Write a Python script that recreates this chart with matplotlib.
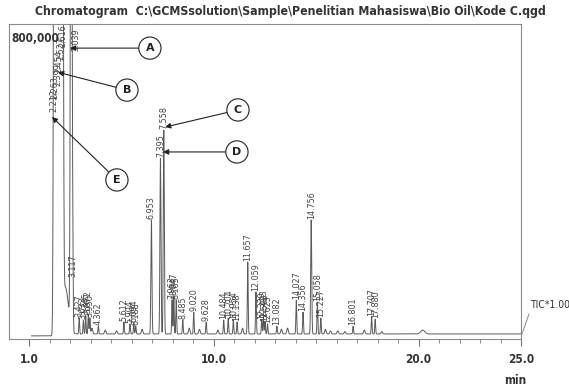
import numpy as np
import matplotlib.pyplot as plt

# off-scale peaks at the start of the run (min, counts)
big_rt = [2.212, 2.263, 2.399, 2.454, 2.527, 2.616, 3.039]
big_h = [1.9e6, 2.4e6, 3.1e6, 2.8e6, 2.2e6, 1.6e6, 2.0e6]

# labelled peaks (retention time, height above baseline)
peak_rt = [3.117, 3.427, 3.633, 3.745, 3.872, 3.950, 4.362, 5.612, 5.904, 6.094, 6.188,
           6.953, 7.395, 7.558, 7.963, 8.047, 8.165, 8.485, 9.020, 9.628,
           10.484, 10.704, 10.954, 11.138, 11.657, 12.059, 12.339, 12.423, 12.503, 12.623,
           13.082, 14.027, 14.356, 14.756, 15.058, 15.227, 16.801, 17.707, 17.880]
peak_h = [145e3, 41e3, 36e3, 46e3, 51e3, 41e3, 20e3, 31e3, 26e3, 28e3, 20e3,
          293e3, 452e3, 524e3, 87e3, 97e3, 87e3, 36e3, 56e3, 31e3,
          36e3, 41e3, 36e3, 31e3, 185e3, 108e3, 36e3, 41e3, 31e3, 26e3,
          20e3, 87e3, 56e3, 293e3, 82e3, 41e3, 20e3, 44e3, 38e3]

# small unlabelled peaks
minor_rt = [2.75, 4.05, 4.7, 5.25, 6.5, 8.8, 9.3, 10.2, 11.4, 13.3, 13.6,
            15.45, 15.7, 16.05, 16.4, 17.35, 18.2, 20.2]
minor_h = [120e3, 15e3, 10e3, 8e3, 12e3, 15e3, 12e3, 10e3, 15e3, 12e3, 15e3,
           12e3, 8e3, 8e3, 6e3, 10e3, 6e3, 10e3]

baseline = 13e3
ymax = 810e3

t = np.linspace(1.1, 25.0, 16000)
y = np.where(t < 2.1, 8e3, baseline)
for rt, h in zip(big_rt, big_h):
    y = y + h * np.exp(-0.5 * ((t - rt) / 0.035) ** 2)
for rt, h in zip(peak_rt, peak_h):
    s = 0.025 if h > 200e3 else 0.02
    y = y + h * np.exp(-0.5 * ((t - rt) / s) ** 2)
for rt, h in zip(minor_rt, minor_h):
    s = 0.15 if rt < 3 else (0.1 if rt > 19 else 0.035)
    y = y + h * np.exp(-0.5 * ((t - rt) / s) ** 2)

fig = plt.figure(figsize=(5.69, 3.91), dpi=100)
ax = fig.add_axes([9 / 569, 1 - 339 / 391, 512 / 569, 315 / 391])
ax.plot(t, y, color='#5a5a5a', lw=0.7)
ax.set_xlim(0, 25)
ax.set_ylim(0, ymax)

fam = 'DejaVu Sans'
cond = dict(family=fam, stretch='condensed', color='#333333')
for sp in ax.spines.values():
    sp.set_color('#8a8a8a')
    sp.set_linewidth(0.8)
ax.set_yticks([])
ax.set_xticks([1, 10, 20, 25])
ax.set_xticklabels(['1.0', '10.0', '20.0', '25.0'], fontsize=8.5, fontweight='bold', **cond)
ax.set_xticks(np.arange(1, 26, 1), minor=True)
ax.tick_params(axis='x', which='major', length=5, color='#777777', pad=5)
ax.tick_params(axis='x', which='minor', length=3, color='#777777')

# peak labels
lab_kw = dict(rotation=90, ha='center', fontsize=5.8, color='#444444', family=fam)
for rt, h in zip(peak_rt, peak_h):
    ax.text(rt, baseline + h + 2e3, '%.3f' % rt, va='bottom', **lab_kw)
step = 13 * ymax / 315
cluster = big_rt[:-1]
for k, rt in enumerate(reversed(cluster)):
    ax.text(rt, ymax - k * step, '%.3f' % rt, va='top', **lab_kw)
ax.text(big_rt[-1] + 0.25, ymax - 1e4, '%.3f' % big_rt[-1], va='top', **lab_kw)

ax.text(0.004, 0.975, '800,000', transform=ax.transAxes, ha='left', va='top',
        fontsize=8.5, fontweight='bold', **cond)

# marker circles with arrows
marks = [('A', (2.98, 748e3), (6.88, 748e3)),
         ('B', (2.39, 686e3), (5.76, 640e3)),
         ('C', (7.62, 545e3), (11.18, 589e3)),
         ('D', (7.52, 481e3), (11.13, 481e3)),
         ('E', (2.10, 571e3), (5.27, 409e3))]
for letter, start, centre in marks:
    ax.annotate(letter, xy=start, xytext=centre, ha='center', va='center',
                fontsize=8, fontweight='bold', color='#222222',
                bbox=dict(boxstyle='circle,pad=0.55', fc='white', ec='#222222', lw=0.8),
                arrowprops=dict(arrowstyle='-|>', color='#222222', lw=0.8,
                                mutation_scale=8, shrinkA=0, shrinkB=0))

fig.text(290 / 569, 1 - 12 / 391,
         'Chromatogram  C:\\GCMSsolution\\Sample\\Penelitian Mahasiswa\\Bio Oil\\Kode C.qgd',
         ha='center', va='center', fontsize=8.8, fontweight='bold', **cond)
fig.text(530 / 569, 1 - 305 / 391, 'TIC*1.00', ha='left', va='center', fontsize=7.5, **cond)
fig.add_artist(plt.Line2D([522 / 569, 529 / 569], [1 - 334 / 391, 1 - 314 / 391],
                          color='#888888', lw=0.7))
fig.text(515 / 569, 1 - 381 / 391, 'min', ha='center', va='center',
         fontsize=8.5, fontweight='bold', **cond)

fig.savefig('out.png', dpi=100, facecolor='white')
